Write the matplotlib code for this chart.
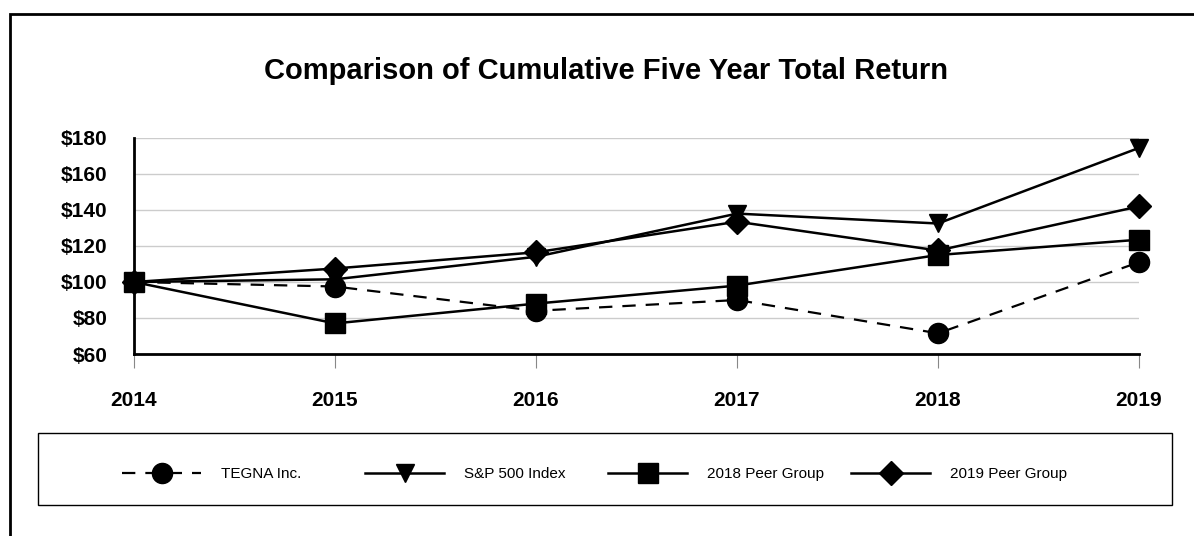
import matplotlib.pyplot as plt
from matplotlib.patches import Rectangle

plt.rcParams['font.family'] = ['Liberation Sans', 'DejaVu Sans']

years = [2014, 2015, 2016, 2017, 2018, 2019]
tegna = [100, 97.5, 84, 90, 71.5, 111]
sp500 = [100, 101.5, 114, 138, 132.5, 174.5]
peer_2018 = [100, 77, 88, 98, 115, 123.5]
peer_2019 = [100, 107.5, 116.5, 133.5, 117.5, 142]
y_ticks = [60, 80, 100, 120, 140, 160, 180]

fig = plt.figure(figsize=(11.94, 5.36), dpi=100)
fig.patches.append(Rectangle((10 / 1194, -0.05), 1.2, 1 - 14 / 536 + 0.05,
                             transform=fig.transFigure, fill=False,
                             edgecolor='black', linewidth=2))

ax = fig.add_axes([134 / 1194, 1 - 354 / 536, (1139 - 134) / 1194, (354 - 138) / 536])

ax.plot(years, tegna, color='black', linestyle=(0, (6, 4.5)), linewidth=1.6,
        marker='o', markersize=14.5, label='TEGNA Inc.')
ax.plot(years, sp500, color='black', linewidth=1.8,
        marker='v', markersize=13.5, label='S&P 500 Index')
ax.plot(years, peer_2018, color='black', linewidth=1.8,
        marker='s', markersize=14, label='2018 Peer Group')
ax.plot(years, peer_2019, color='black', linewidth=1.8,
        marker='D', markersize=12.5, label='2019 Peer Group')

ax.set_xlim(2014, 2019)
ax.set_ylim(60, 180)
ax.set_yticks(y_ticks)
ax.set_yticklabels([f'${v}' for v in y_ticks], fontsize=15, fontweight='bold')
ax.set_xticks(years)
ax.set_xticklabels([str(y) for y in years], fontsize=15, fontweight='bold')
ax.tick_params(axis='y', length=0, pad=19)
ax.tick_params(axis='x', length=10, color='#888888', pad=17)
ax.grid(axis='y', color='#cccccc', linewidth=1)
ax.set_axisbelow(True)
for s in ['top', 'right']:
    ax.spines[s].set_visible(False)
ax.spines['left'].set_linewidth(2)
ax.spines['bottom'].set_linewidth(2)
for m in ax.lines:
    m.set_clip_on(False)

fig.text(606 / 1194, 1 - 71 / 536, 'Comparison of Cumulative Five Year Total Return',
         ha='center', va='center', fontsize=21, fontweight='bold')

# legend box drawn separately; one frameless legend per entry, equal-width slots
fig.patches.append(Rectangle((38 / 1194, 1 - 505 / 536), (1172 - 38) / 1194, 72 / 536,
                             transform=fig.transFigure, fill=False,
                             edgecolor='black', linewidth=1))
slot_x = [122, 365, 608, 851]
for line, x in zip(ax.lines, slot_x):
    fig.legend([line], [line.get_label()], loc='center left',
               bbox_to_anchor=(x / 1194, 1 - 474 / 536),
               frameon=False, fontsize=11, handlelength=5.2, borderpad=0,
               borderaxespad=0, handletextpad=1.3)

fig.savefig('out.png', dpi=100)
